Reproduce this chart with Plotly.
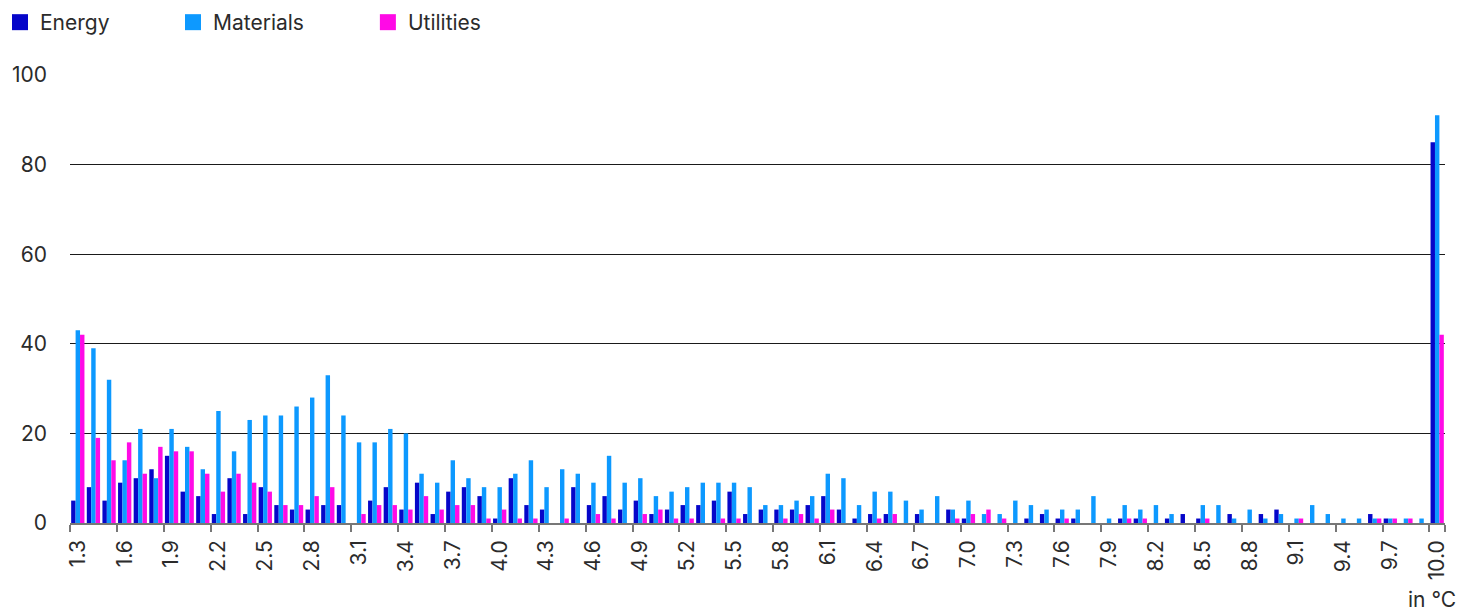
import plotly.graph_objects as go

# Temperature buckets (°C)
categories = [
    "1.3", "1.4", "1.5", "1.6", "1.7", "1.8", "1.9", "2.0", "2.1", "2.2",
    "2.3", "2.4", "2.5", "2.6", "2.7", "2.8", "2.9", "3.0", "3.1", "3.2",
    "3.3", "3.4", "3.5", "3.6", "3.7", "3.8", "3.9", "4.0", "4.1", "4.2",
    "4.3", "4.4", "4.5", "4.6", "4.7", "4.8", "4.9", "5.0", "5.1", "5.2",
    "5.3", "5.4", "5.5", "5.6", "5.7", "5.8", "5.9", "6.0", "6.1", "6.2",
    "6.3", "6.4", "6.5", "6.6", "6.7", "6.8", "6.9", "7.0", "7.1", "7.2",
    "7.3", "7.4", "7.5", "7.6", "7.7", "7.8", "7.9", "8.0", "8.1", "8.2",
    "8.3", "8.4", "8.5", "8.6", "8.7", "8.8", "8.9", "9.0", "9.1", "9.2",
    "9.3", "9.4", "9.5", "9.6", "9.7", "9.8", "9.9", "10.0",
]

energy = [
    5, 8, 5, 9, 10, 12, 15, 7, 6, 2,
    10, 2, 8, 4, 3, 3, 4, 4, 0, 5,
    8, 3, 9, 2, 7, 8, 6, 1, 10, 4,
    3, 0, 8, 4, 6, 3, 5, 2, 3, 4,
    4, 5, 7, 2, 3, 3, 3, 4, 6, 3,
    1, 2, 2, 0, 2, 0, 3, 1, 0, 0,
    0, 1, 2, 1, 1, 0, 0, 1, 1, 0,
    1, 2, 1, 0, 2, 0, 2, 3, 0, 0,
    0, 0, 0, 2, 1, 0, 0, 85,
]

materials = [
    43, 39, 32, 14, 21, 10, 21, 17, 12, 25,
    16, 23, 24, 24, 26, 28, 33, 24, 18, 18,
    21, 20, 11, 9, 14, 10, 8, 8, 11, 14,
    8, 12, 11, 9, 15, 9, 10, 6, 7, 8,
    9, 9, 9, 8, 4, 4, 5, 6, 11, 10,
    4, 7, 7, 5, 3, 6, 3, 5, 2, 2,
    5, 4, 3, 3, 3, 6, 1, 4, 3, 4,
    2, 0, 4, 4, 1, 3, 1, 2, 1, 4,
    2, 1, 1, 1, 1, 1, 1, 91,
]

utilities = [
    42, 19, 14, 18, 11, 17, 16, 16, 11, 7,
    11, 9, 7, 4, 4, 6, 8, 0, 2, 4,
    4, 3, 6, 3, 4, 4, 1, 3, 1, 1,
    0, 1, 0, 2, 1, 0, 2, 3, 1, 1,
    0, 1, 1, 0, 0, 1, 2, 1, 3, 0,
    0, 1, 2, 0, 0, 0, 1, 2, 3, 1,
    0, 0, 0, 1, 0, 0, 0, 1, 1, 0,
    0, 0, 1, 0, 0, 0, 0, 0, 1, 0,
    0, 0, 0, 1, 1, 1, 0, 42,
]

tick_labels = [
    "1.3", "1.6", "1.9", "2.2", "2.5", "2.8", "3.1", "3.4", "3.7", "4.0",
    "4.3", "4.6", "4.9", "5.2", "5.5", "5.8", "6.1", "6.4", "6.7", "7.0",
    "7.3", "7.6", "7.9", "8.2", "8.5", "8.8", "9.1", "9.4", "9.7", "10.0",
]

series = [
    ("Energy", energy, "#0606C9"),
    ("Materials", materials, "#0D99FF"),
    ("Utilities", utilities, "#FF0AE6"),
]

FONT = "Inter"
TEXT = "#2b2b2b"
SIZE = 21

fig = go.Figure()

for name, values, color in series:
    fig.add_trace(go.Bar(
        x=categories, y=values, name=name,
        marker=dict(color=color, line=dict(width=0)),
        showlegend=False,
    ))

# Legend swatches, one legend per series so each sits at its own position
legend_ids = ["legend", "legend2", "legend3"]
legend_x = [-0.0014, 0.1184, 0.2518]
for (name, _, color), lid in zip(series, legend_ids):
    fig.add_trace(go.Scatter(
        x=[None], y=[None], mode="markers", name=name,
        marker=dict(symbol="square", size=16, color=color),
        legend=lid, showlegend=True,
    ))

legend_style = dict(
    xref="container", yref="container", xanchor="left", yanchor="top",
    y=0.9967, orientation="h", bgcolor="rgba(0,0,0,0)",
    font=dict(family=FONT, size=SIZE, color=TEXT),
    itemclick=False, itemdoubleclick=False,
)

layout_legends = {}
for lid, lx in zip(legend_ids, legend_x):
    layout_legends[lid] = dict(legend_style, x=lx)

fig.update_layout(
    width=1461, height=612,
    margin=dict(l=69, r=13, t=75, b=89),
    paper_bgcolor="white", plot_bgcolor="white",
    barmode="group", bargap=0.15, bargroupgap=0,
    font=dict(family=FONT, size=SIZE, color=TEXT),
    **layout_legends,
    xaxis=dict(
        type="category",
        tickmode="array", tickvals=tick_labels, ticktext=tick_labels,
        tickson="boundaries",
        tickangle=-90,
        ticks="outside", ticklen=7, tickwidth=1.5, tickcolor="#777777",
        ticklabelstandoff=7,
        showline=True, linecolor="#777777", linewidth=1.5,
        showgrid=False,
        tickfont=dict(family=FONT, size=SIZE, color=TEXT),
    ),
    yaxis=dict(
        range=[0, 100], tickvals=[0, 20, 40, 60, 80, 100],
        showgrid=True, gridcolor="#1a1a1a", gridwidth=1,
        zeroline=False, showline=False,
        ticks="", ticklabelstandoff=22,
        tickfont=dict(family=FONT, size=SIZE, color=TEXT),
    ),
    annotations=[dict(
        text="in °C", xref="paper", yref="paper", x=1, y=0,
        xanchor="right", yanchor="top", xshift=13, yshift=-62,
        showarrow=False, font=dict(family=FONT, size=SIZE, color=TEXT),
    )],
)

fig.write_html("out.html")
